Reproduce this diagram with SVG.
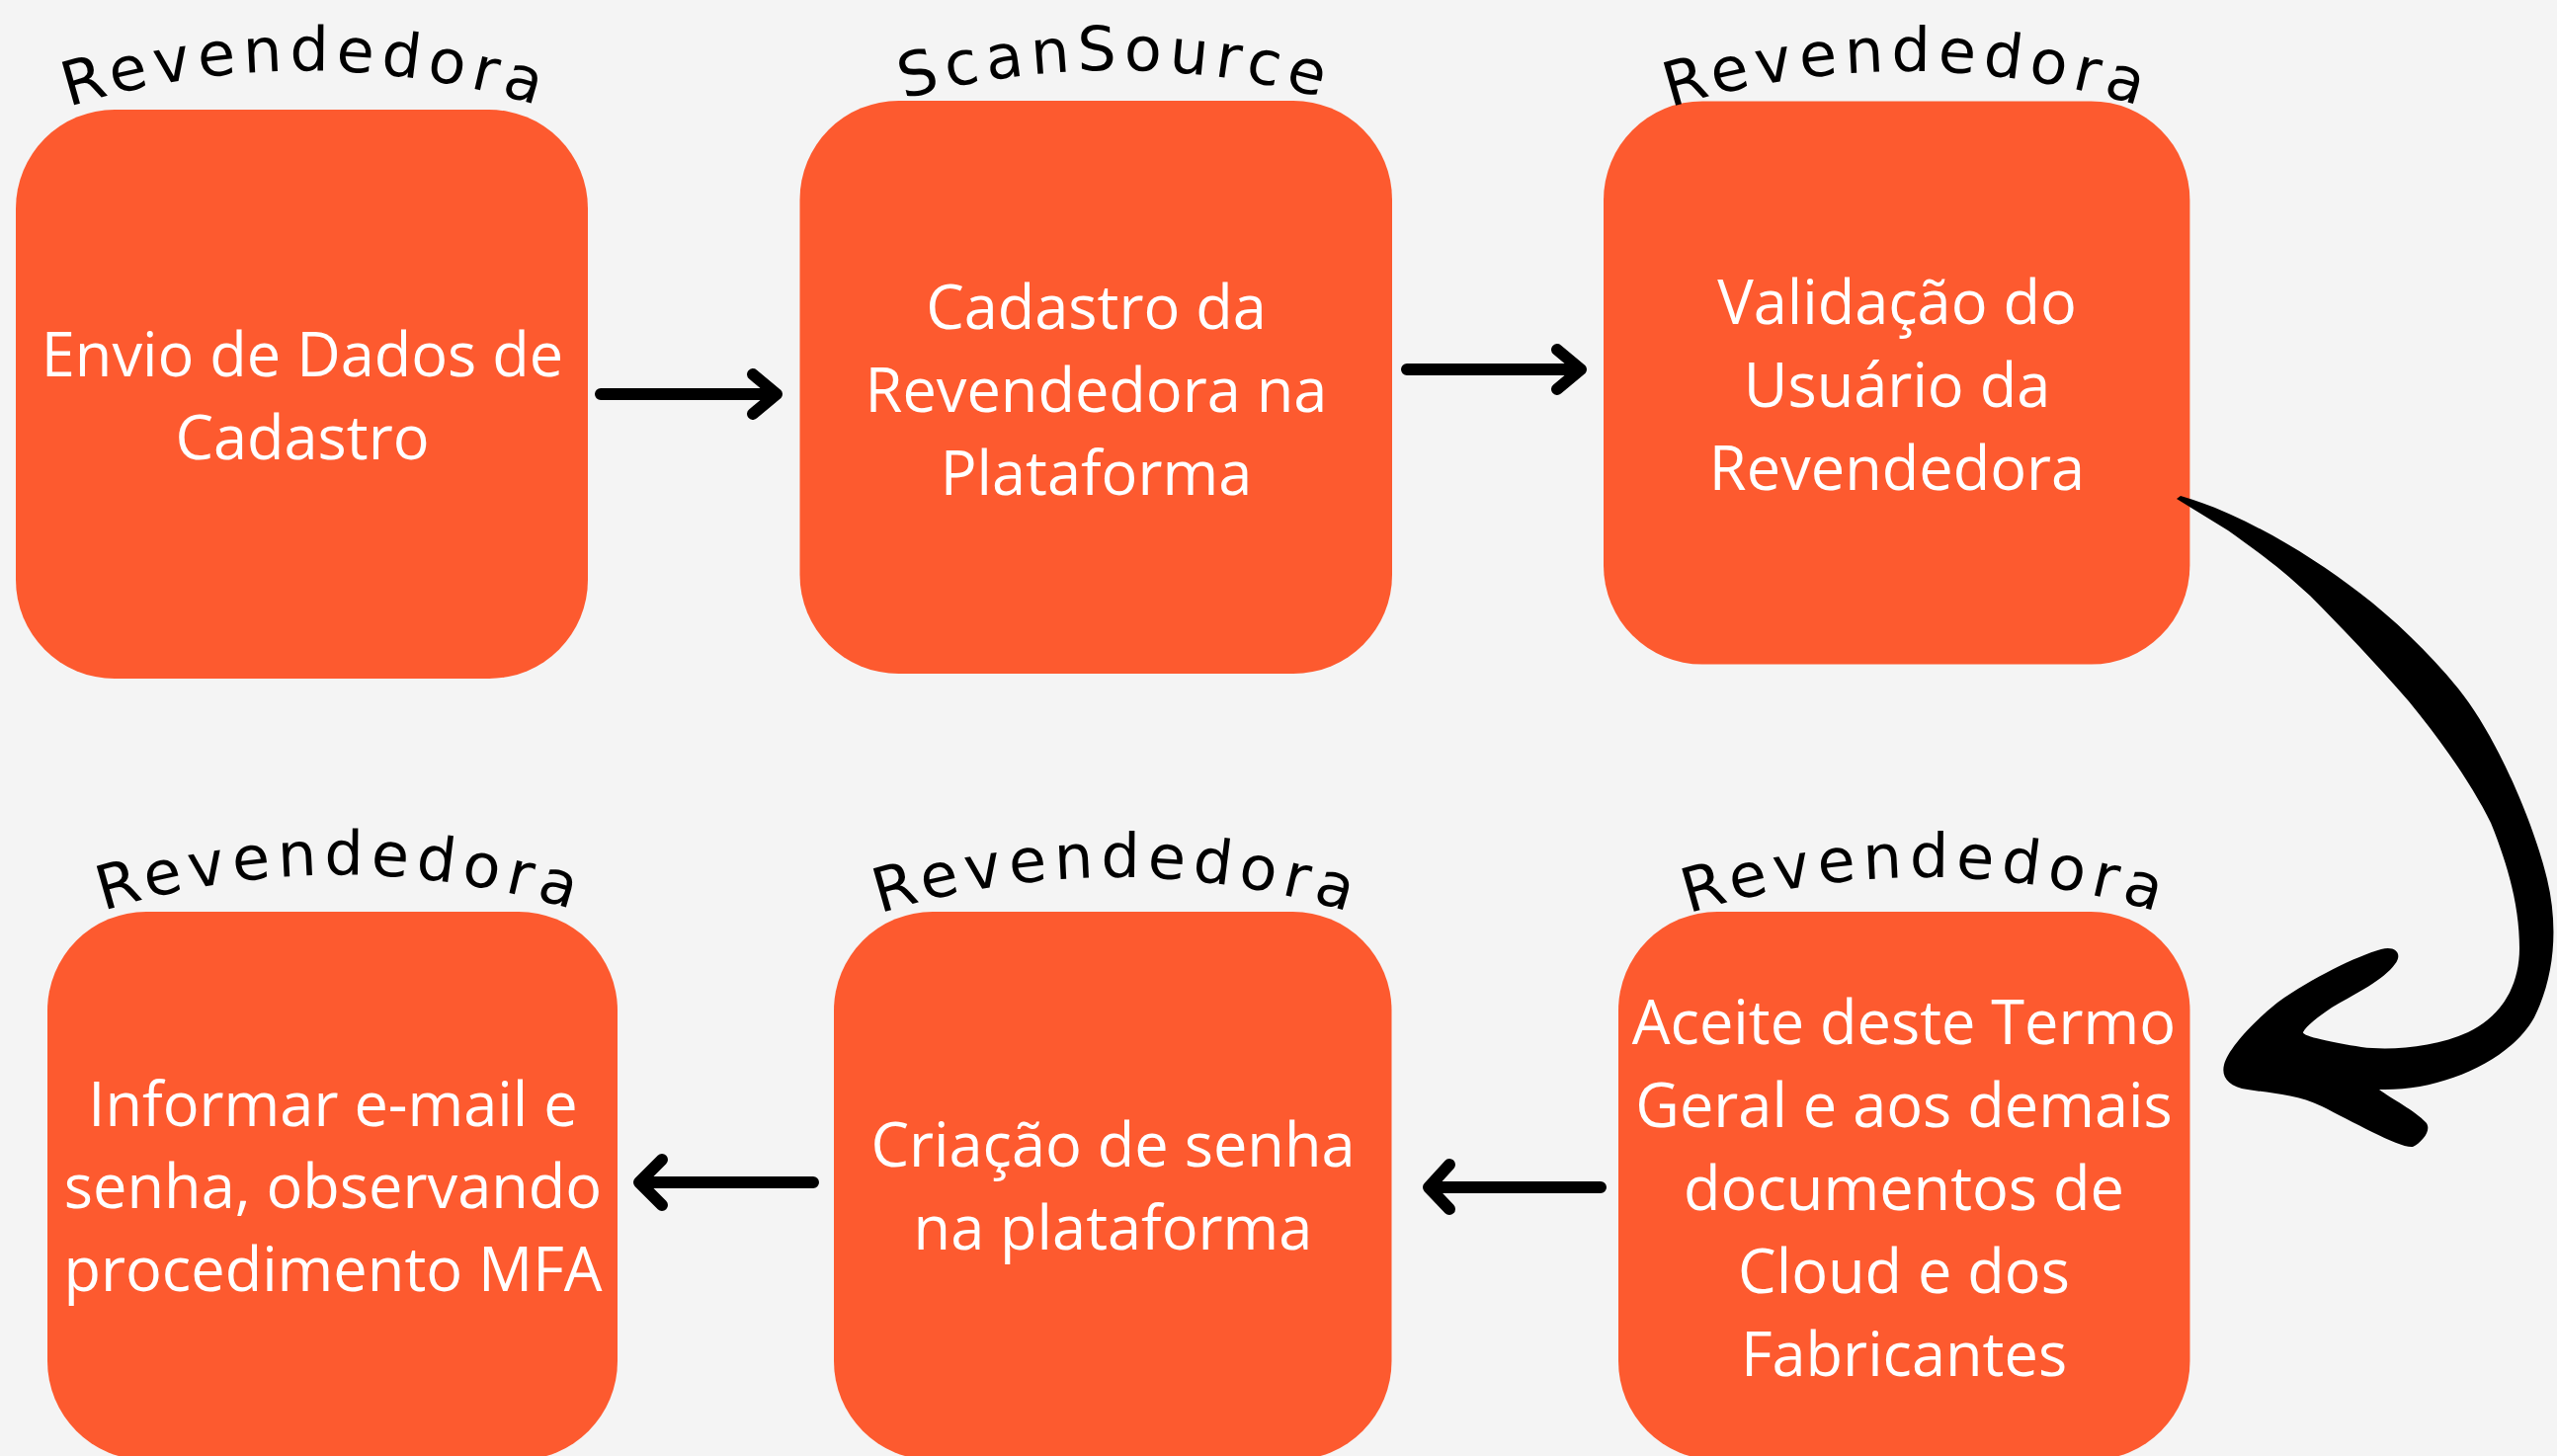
<svg xmlns="http://www.w3.org/2000/svg" xmlns:xlink="http://www.w3.org/1999/xlink" width="2588" height="1474" viewBox="0 0 2588 1474">
<style>
.box{fill:#fd5a2f}
.txt{font-family:"Open Sans","Liberation Sans",sans-serif;font-size:61.3px;fill:#ffffff;text-anchor:middle}
.lbl{font-family:"DejaVu Sans","Liberation Sans",sans-serif;font-size:62px;fill:#000000;letter-spacing:7px}
.arr{fill:none;stroke:#000;stroke-width:12;stroke-linecap:round;stroke-linejoin:round}
</style>
<defs>
<path id="a1" d="M-90.5,178.7 A800,800 0 0 1 709.5,178.7"/>
<path id="a2" d="M729,178.2 A800,800 0 0 1 1529,178.2"/>
<path id="a3" d="M1530.6,179.2 A800,800 0 0 1 2330.6,179.2"/>
<path id="a4" d="M1549,995.2 A800,800 0 0 1 2349,995.2"/>
<path id="a5" d="M730.6,995.2 A800,800 0 0 1 1530.6,995.2"/>
<path id="a6" d="M-55.4,992.7 A800,800 0 0 1 744.6,992.7"/>
</defs>
<rect width="2588" height="1474" fill="#f4f4f4"/>

<g id="node1">
<rect class="box" x="16" y="111" width="579" height="576" rx="100" ry="100"/>
<text class="lbl"><textPath xlink:href="#a1" href="#a1" startOffset="50%" text-anchor="middle">Revendedora</textPath></text>
<text class="txt" x="306" y="381">Envio de Dados de</text>
<text class="txt" x="306" y="465">Cadastro</text>
</g>

<g id="node2">
<rect class="box" x="809.5" y="102" width="599.5" height="580" rx="100" ry="100"/>
<text class="lbl"><textPath xlink:href="#a2" href="#a2" startOffset="50%" text-anchor="middle">ScanSource</textPath></text>
<text class="txt" x="1109.5" y="333">Cadastro da</text>
<text class="txt" x="1109.5" y="417">Revendedora na</text>
<text class="txt" x="1109.5" y="500.5">Plataforma</text>
</g>

<g id="node3">
<rect class="box" x="1623" y="102.4" width="593.4" height="570.2" rx="100" ry="100"/>
<text class="lbl"><textPath xlink:href="#a3" href="#a3" startOffset="50%" text-anchor="middle">Revendedora</textPath></text>
<text class="txt" x="1920" y="328">Validação do</text>
<text class="txt" x="1920" y="412">Usuário da</text>
<text class="txt" x="1920" y="496">Revendedora</text>
</g>

<g id="node4">
<rect class="box" x="1638" y="923" width="578.5" height="555" rx="100" ry="100"/>
<text class="lbl"><textPath xlink:href="#a4" href="#a4" startOffset="50%" text-anchor="middle">Revendedora</textPath></text>
<text class="txt" x="1927" y="1057">Aceite deste Termo</text>
<text class="txt" x="1927" y="1141">Geral e aos demais</text>
<text class="txt" x="1927" y="1224.6">documentos de</text>
<text class="txt" x="1927" y="1308.8">Cloud e dos</text>
<text class="txt" x="1927" y="1392.6">Fabricantes</text>
</g>

<g id="node5">
<rect class="box" x="844" y="923" width="564.5" height="555" rx="100" ry="100"/>
<text class="lbl"><textPath xlink:href="#a5" href="#a5" startOffset="50%" text-anchor="middle">Revendedora</textPath></text>
<text class="txt" x="1126.5" y="1181">Criação de senha</text>
<text class="txt" x="1126.5" y="1265.4">na plataforma</text>
</g>

<g id="node6">
<rect class="box" x="48" y="923" width="577" height="555" rx="100" ry="100"/>
<text class="lbl"><textPath xlink:href="#a6" href="#a6" startOffset="50%" text-anchor="middle">Revendedora</textPath></text>
<text class="txt" x="337" y="1140">Informar e-mail e</text>
<text class="txt" x="337" y="1222.5">senha, observando</text>
<text class="txt" x="337" y="1307">procedimento MFA</text>
</g>

<g id="connectors">
<path class="arr" d="M608,399 H786 M762,379 L786,399 L762,419"/>
<path class="arr" d="M1424,374 H1600 M1576,354 L1600,374 L1576,394"/>
<path class="arr" d="M1620,1202 H1446 M1467,1179 L1446,1202 L1467,1224"/>
<path class="arr" d="M823,1197 H647 M670,1174 L647,1197 L670,1220"/>
<path fill="#000" d="M2203,505 L2207,502 C2270,520 2340,563 2388,600 C2422,626 2458,660 2488,697 C2530,749 2567,842 2578,890 C2590,940 2585,990 2565,1030 C2540,1075 2470,1105 2408,1103 C2420,1112 2445,1125 2455,1136 C2462,1143 2452,1156 2442,1161 C2430,1163 2380,1135 2350,1120 C2325,1108 2300,1107 2275,1103 C2255,1100 2248,1090 2251,1078 C2255,1062 2280,1035 2305,1015 C2340,990 2385,968 2410,961 C2425,957 2432,966 2424,976 C2412,993 2380,1008 2360,1020 C2345,1030 2335,1038 2331,1045 C2330,1049 2360,1055 2390,1060 C2420,1064 2465,1060 2498,1045 C2530,1030 2550,1000 2550,960 C2550,920 2540,880 2521,833 C2505,800 2475,755 2438,710 C2405,672 2370,635 2338,603 C2305,572 2280,555 2255,537 Z"/>
</g>
</svg>
